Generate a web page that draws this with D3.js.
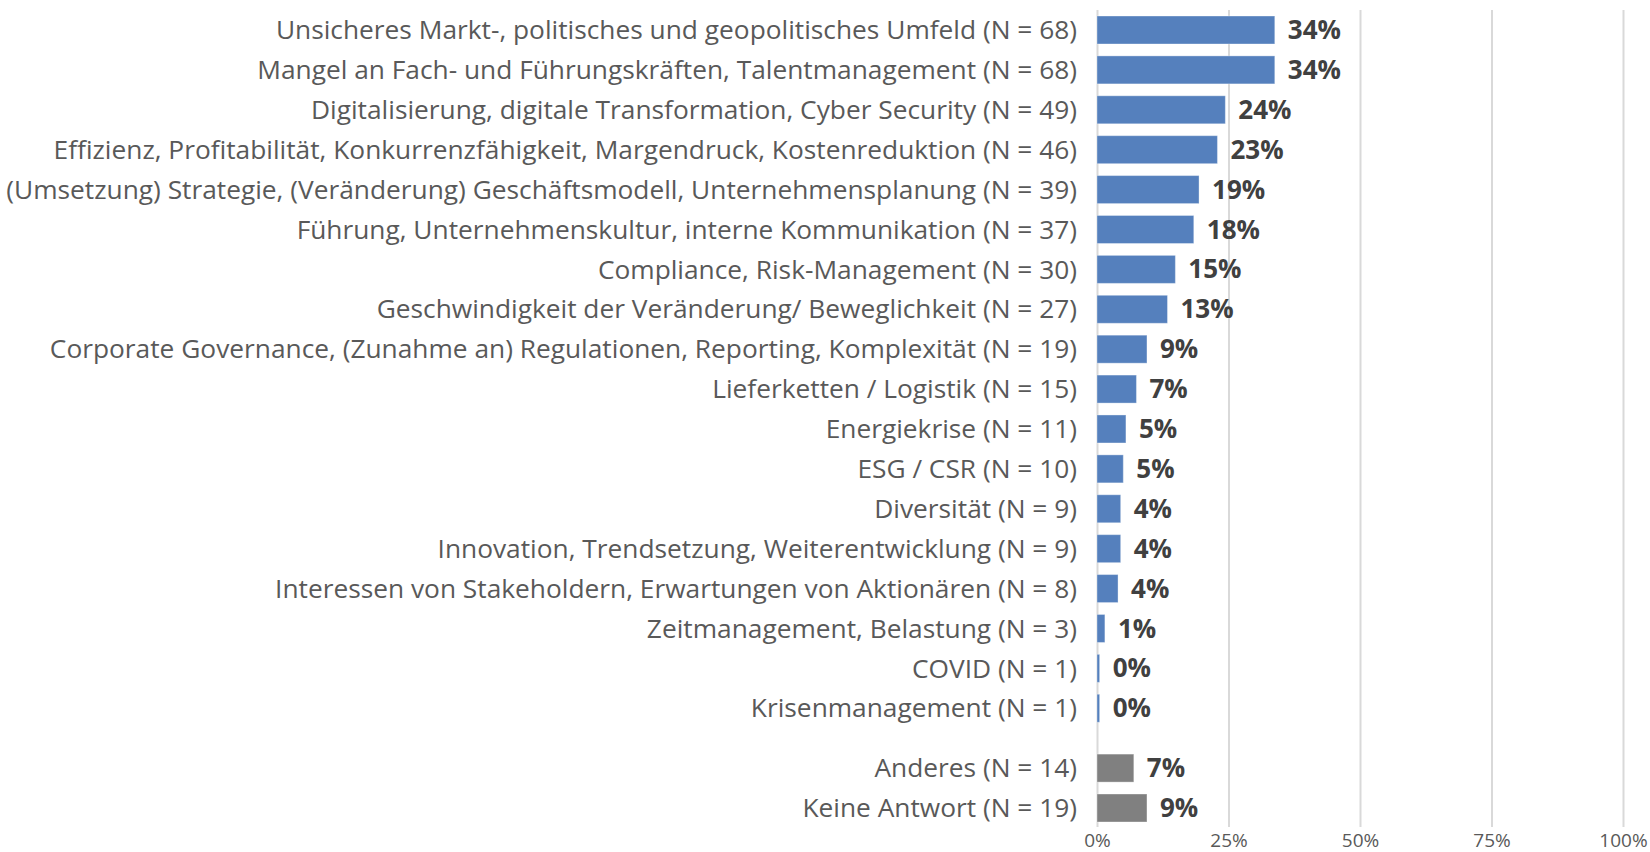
<!DOCTYPE html>
<html>
<head>
<meta charset="utf-8">
<script src="https://cdn.jsdelivr.net/npm/d3@7"></script>
<style>
  html, body { margin: 0; padding: 0; background: #fff; }
  svg { display: block; }
</style>
</head>
<body>
<svg id="chart" width="1650" height="852"></svg>
<script>
const categories = [
  "Unsicheres Markt-, politisches und geopolitisches Umfeld (N = 68)",
  "Mangel an Fach- und Führungskräften, Talentmanagement (N = 68)",
  "Digitalisierung, digitale Transformation, Cyber Security (N = 49)",
  "Effizienz, Profitabilität, Konkurrenzfähigkeit, Margendruck, Kostenreduktion (N = 46)",
  "(Umsetzung) Strategie, (Veränderung) Geschäftsmodell, Unternehmensplanung (N = 39)",
  "Führung, Unternehmenskultur, interne Kommunikation (N = 37)",
  "Compliance, Risk-Management (N = 30)",
  "Geschwindigkeit der Veränderung/ Beweglichkeit (N = 27)",
  "Corporate Governance, (Zunahme an) Regulationen, Reporting, Komplexität (N = 19)",
  "Lieferketten / Logistik (N = 15)",
  "Energiekrise (N = 11)",
  "ESG / CSR (N = 10)",
  "Diversität (N = 9)",
  "Innovation, Trendsetzung, Weiterentwicklung (N = 9)",
  "Interessen von Stakeholdern, Erwartungen von Aktionären (N = 8)",
  "Zeitmanagement, Belastung (N = 3)",
  "COVID (N = 1)",
  "Krisenmanagement (N = 1)",
  "Anderes (N = 14)",
  "Keine Antwort (N = 19)"
];
const values = [33.8, 33.8, 24.4, 22.9, 19.4, 18.4, 14.9, 13.4, 9.5, 7.5, 5.5, 5.0, 4.5, 4.5, 4.0, 1.5, 0.5, 0.5, 7.0, 9.5];
const valueLabels = ["34%", "34%", "24%", "23%", "19%", "18%", "15%", "13%", "9%", "7%", "5%", "5%", "4%", "4%", "4%", "1%", "0%", "0%", "7%", "9%"];
const groups = ["main","main","main","main","main","main","main","main","main","main","main","main","main","main","main","main","main","main","other","other"];
const tickValues = [0, 25, 50, 75, 100];

const svg = d3.select("#chart");
const x = d3.scaleLinear().domain([0, 100]).range([1097, 1623]);
// row slot: the "other" group sits half a row further down
const slot = (i) => groups[i] === "other" ? i + 0.5 : i;
const y = d3.scaleLinear().domain([0, 19.5]).range([30, 808]);
const barH = 28;
const colors = { main: "#5580bd", other: "#808080" };
const font = "'Segoe UI', 'Open Sans', sans-serif";

// gridlines
const axis = d3.axisBottom(x).tickValues(tickValues).tickFormat(d => d + "%").tickSize(-817).tickPadding(7);
const gAxis = svg.append("g").attr("transform", "translate(0,827)").call(axis);
gAxis.select(".domain").remove();
gAxis.selectAll(".tick line").attr("stroke", "#d9d9d9").attr("stroke-width", 2);
gAxis.selectAll(".tick text")
  .attr("fill", "#595959")
  .style("font-family", font)
  .style("font-size", "19px");

// bars
svg.append("g").selectAll("rect").data(values).join("rect")
  .attr("x", x(0))
  .attr("y", (d, i) => y(slot(i)) - barH / 2)
  .attr("width", d => Math.max(x(d) - x(0), 2))
  .attr("height", barH)
  .attr("fill", (d, i) => colors[groups[i]])
  .attr("stroke", "rgba(255,255,255,0.35)")
  .attr("stroke-width", 1);

// category labels
svg.append("g").selectAll("text").data(categories).join("text")
  .attr("x", 1077)
  .attr("y", (d, i) => y(slot(i)))
  .attr("dy", "0.35em")
  .attr("text-anchor", "end")
  .attr("fill", "#595959")
  .style("font-family", font)
  .style("font-size", "26.3px")
  .text(d => d);

// value labels
svg.append("g").selectAll("text").data(values).join("text")
  .attr("x", d => x(0) + Math.max(x(d) - x(0), 2) + 13)
  .attr("y", (d, i) => y(slot(i)))
  .attr("dy", "0.35em")
  .attr("fill", "#404040")
  .style("font-family", font)
  .style("font-size", "26px")
  .style("font-weight", "bold")
  .text((d, i) => valueLabels[i]);
</script>
</body>
</html>
